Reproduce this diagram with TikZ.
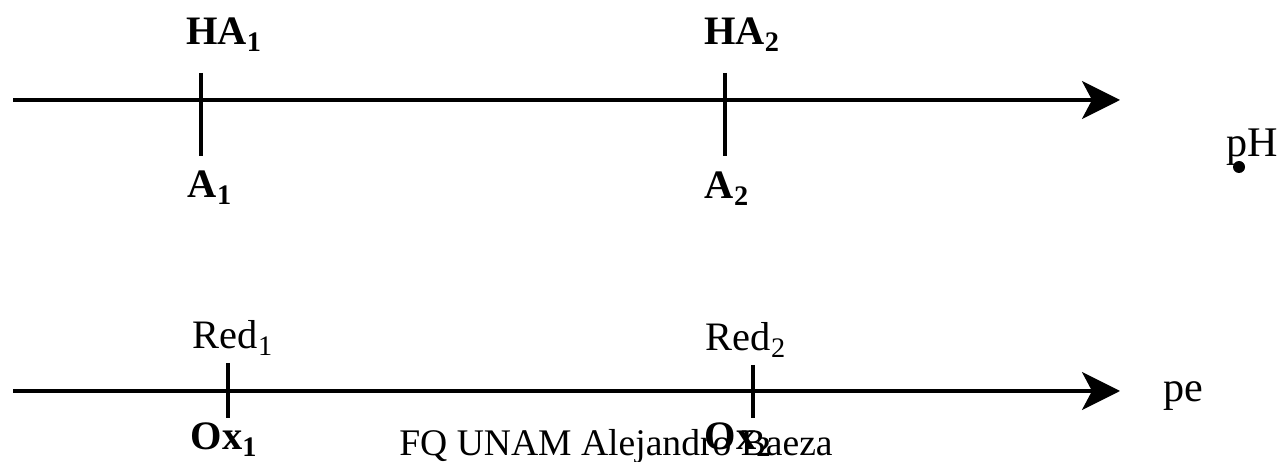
\documentclass[tikz,border=0pt]{standalone}
\usepackage{fontspec}
\setmainfont{Liberation Serif}
\usepackage{tikz}
\usetikzlibrary{arrows.meta}

\begin{document}
\begin{tikzpicture}[x=0.02cm, y=-0.02cm,
  axisline/.style={line width=2pt, -{Stealth[length=0.76cm, width=0.76cm, inset=0.2cm]}},
  tickmark/.style={line width=2.4pt},
  lbl/.style={inner sep=0pt, anchor=base, font=\fontsize{23}{26}\selectfont\bfseries},
  lblr/.style={lbl, font=\fontsize{23}{26}\selectfont},
  axname/.style={inner sep=0pt, anchor=base, font=\fontsize{24}{28}\selectfont}]
\useasboundingbox (0,0) rectangle (1285,462);
% pH scale
\coordinate (phstart) at (13,100);
\coordinate (phend) at (1120,100);
\draw[axisline] (phstart) -- (phend);
\coordinate (t1top) at (201,73);
\coordinate (t1bot) at (201,156);
\coordinate (t2top) at (725,73);
\coordinate (t2bot) at (725,156);
\draw[tickmark] (t1top) -- (t1bot);
\draw[tickmark] (t2top) -- (t2bot);
\node[lbl] (ha1) at (224,45) {HA\textsubscript{1}};
\node[lbl] (a1) at (210,198) {A\textsubscript{1}};
\node[lbl] (ha2) at (742,45) {HA\textsubscript{2}};
\node[lbl] (a2) at (727,199) {A\textsubscript{2}};
\node[axname] (ph) at (1252,157) {pH};
\fill (1239,167) circle[radius=0.12cm];
% pe scale
\coordinate (pestart) at (13,391);
\coordinate (peend) at (1120,391);
\draw[axisline] (pestart) -- (peend);
\coordinate (t3top) at (228,363);
\coordinate (t3bot) at (228,418);
\coordinate (t4top) at (753,365);
\coordinate (t4bot) at (753,418);
\draw[tickmark] (t3top) -- (t3bot);
\draw[tickmark] (t4top) -- (t4bot);
\node[lblr] (red1) at (233,349) {Red\textsubscript{1}};
\node[lbl] (ox1) at (224,450) {Ox\textsubscript{1}};
\node[lblr] (red2) at (746,351) {Red\textsubscript{2}};
\node[lbl] (ox2) at (738,450) {Ox\textsubscript{2}};
\node[axname] (pe) at (1183,402) {pe};
% credit line
\node[inner sep=0pt, anchor=base, font=\fontsize{21.4}{24}\selectfont] (credit) at (616,456) {FQ UNAM Alejandro Baeza};
\end{tikzpicture}
\end{document}
